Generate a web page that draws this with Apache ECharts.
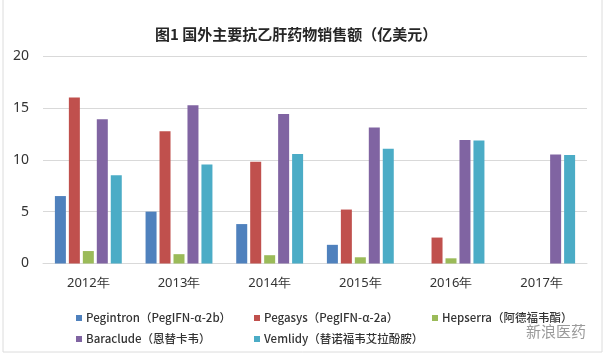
<!DOCTYPE html>
<html><head><meta charset="utf-8">
<script src="https://cdn.jsdelivr.net/npm/echarts@6/dist/echarts.min.js"></script>
<style>html,body{margin:0;padding:0;background:#fff}#c{width:604px;height:357px}</style>
</head><body><div id="c"></div>
<script>
const categories = ['2012年','2013年','2014年','2015年','2016年','2017年'];
const seriesNames = ['Pegintron（PegIFN-α-2b）','Pegasys（PegIFN-α-2a）','Hepserra（阿德福韦酯）','Baraclude（恩替卡韦）','Vemlidy（替诺福韦艾拉酚胺）'];
const pegintron = [6.5, 5.0, 3.8, 1.8, null, null];
const pegasys   = [16.0, 12.75, 9.8, 5.2, 2.5, null];
const hepserra  = [1.2, 0.9, 0.8, 0.6, 0.5, null];
const baraclude = [13.9, 15.25, 14.4, 13.1, 11.9, 10.5];
const vemlidy   = [8.5, 9.55, 10.55, 11.05, 11.85, 10.45];
const yTicks = [0, 5, 10, 15, 20];
const colors = ['#4F81BD','#C0504D','#9BBB59','#8064A2','#4BACC6'];
const values = [pegintron, pegasys, hepserra, baraclude, vemlidy];
const legendPos = [[76,311],[254,311],[432,311],[76,332],[254,332]];

const chart = echarts.init(document.getElementById('c'));
chart.setOption({
  animation: false,
  backgroundColor: '#fff',
  title: {
    text: '图1 国外主要抗乙肝药物销售额（亿美元）',
    left: 150, top: 22,
    textStyle: {fontFamily: 'Noto Sans CJK SC', fontSize: 15, fontWeight: 'bold', color: '#262626'}
  },
  legend: seriesNames.map((n, i) => ({
    data: [n], left: legendPos[i][0], top: legendPos[i][1], padding: 0,
    icon: 'rect', itemWidth: 6, itemHeight: 6, itemGap: 0,
    textStyle: {fontFamily: 'Noto Sans CJK SC', fontSize: 11.5, fontWeight: 500, color: '#333333', lineHeight: 14, padding: [0,0,0,-1]}
  })),
  grid: {left: 43, right: 17, top: 56, bottom: 93.5},
  xAxis: {
    type: 'category', data: categories,
    axisLine: {show: true, lineStyle: {color: '#d9d9d9'}},
    axisTick: {show: false},
    axisLabel: {fontFamily: 'Noto Sans', fontSize: 13, color: '#333333', margin: 13}
  },
  yAxis: {
    type: 'value', min: yTicks[0], max: yTicks[yTicks.length-1], interval: 5,
    axisLine: {show: false}, axisTick: {show: false},
    axisLabel: {fontFamily: 'Noto Sans', fontSize: 14, color: '#333333', margin: 14},
    splitLine: {lineStyle: {color: '#d9d9d9'}}
  },
  series: values.map((v, i) => ({
    name: seriesNames[i], type: 'bar', data: v,
    barWidth: 11, barGap: '27%',
    itemStyle: {color: colors[i]}
  })),
  graphic: [
    {type: 'rect', shape: {x: 3, y: -2, width: 599, height: 354}, style: {fill: 'none', stroke: '#dcdcdc', lineWidth: 1}, silent: true},
    {type: 'text', left: 526, top: 324, style: {text: '新浪医药', font: '15px "Noto Sans CJK SC"', fill: '#9a9a9a'}}
  ]
});
</script></body></html>
